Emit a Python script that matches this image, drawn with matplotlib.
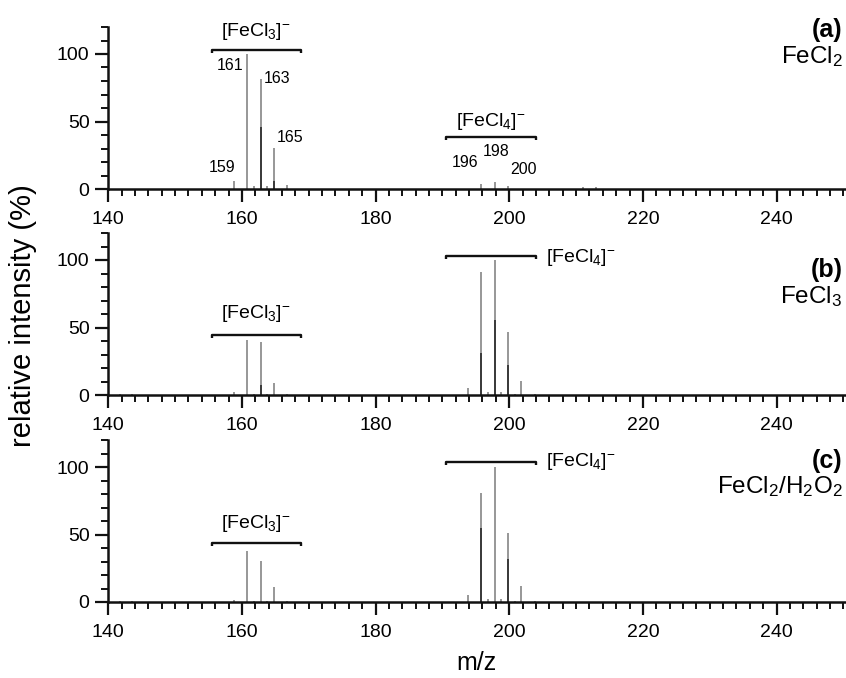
import matplotlib
matplotlib.use("Agg")
import matplotlib.pyplot as plt
from matplotlib.ticker import MultipleLocator

plt.rcParams['font.family'] = ['Liberation Sans', 'DejaVu Sans']
plt.rcParams['mathtext.fontset'] = 'custom'
plt.rcParams['mathtext.rm'] = 'Liberation Sans'
plt.rcParams['mathtext.it'] = 'Liberation Sans:italic'
plt.rcParams['mathtext.bf'] = 'Liberation Sans:bold'

# ---------------- data ----------------
mz_a = [158.8, 160.8, 161.8, 162.8, 163.8, 164.8, 166.8, 195.8, 197.8, 199.8, 211.0, 213.0]
int_a = [6, 100, 2, 81.5, 2, 30.5, 3, 4, 5.5, 2, 1.5, 1.5]
mz_a_dark = [162.8, 164.8]
int_a_dark = [46, 6]

mz_b = [141.7, 143.5, 158.8, 160.8, 161.8, 162.8, 163.8, 164.8, 166.8,
        193.8, 195.8, 196.8, 197.8, 198.8, 199.8, 200.8, 201.8, 203.8]
int_b = [1, 1, 2.5, 41, 1, 39, 1, 9, 1,
         5, 91, 2, 100, 2, 47, 1, 10.5, 1]
mz_b_dark = [162.8, 195.8, 197.8, 199.8]
int_b_dark = [7.5, 31, 55.5, 22]

mz_c = [141.7, 143.5, 158.8, 160.8, 161.8, 162.8, 163.8, 164.8, 166.8,
        193.8, 195.8, 196.8, 197.8, 198.8, 199.8, 200.8, 201.8, 203.8]
int_c = [1, 1, 1.5, 37.7, 1, 30.3, 1, 11.3, 1,
         5, 81, 2, 100, 2, 51, 1, 11.5, 0.5]
mz_c_dark = [195.8, 199.8]
int_c_dark = [55, 32]

peak_labels_a = ["159", "161", "163", "165", "196", "198", "200"]
peak_label_x_a = [157.0, 158.2, 165.2, 167.2, 193.4, 198.1, 202.1]
peak_label_y_a = [15.6, 91.3, 81.5, 37.8, 19.3, 27.6, 14.1]

panel_tags = ["(a)", "(b)", "(c)"]
panel_names = [r"FeCl$_2$", r"FeCl$_3$", r"FeCl$_2$/H$_2$O$_2$"]

fecl3_label = r"[FeCl$_3$]$^{-}$"
fecl4_label = r"[FeCl$_4$]$^{-}$"
fecl3_span = (155.5, 168.8)
fecl4_span = (190.6, 204.0)

# ---------------- figure ----------------
W, H = 846, 678
fig = plt.figure(figsize=(W / 100, H / 100), dpi=100)

left = 108.3 / W
bottoms_px = [189, 395, 602]
height_px = 162
axes = []
for b in bottoms_px:
    ax = fig.add_axes([left, (H - b) / H, 1.0 - left, height_px / H])
    axes.append(ax)

series = [(mz_a, int_a, mz_a_dark, int_a_dark),
          (mz_b, int_b, mz_b_dark, int_b_dark),
          (mz_c, int_c, mz_c_dark, int_c_dark)]

for ax, (mz, it, mzd, itd) in zip(axes, series):
    ax.vlines(mz, 0, it, colors='#858585', lw=1.2)
    ax.vlines(mzd, 0, itd, colors='#2a2a2a', lw=1.2)
    ax.set_xlim(140, 250.4)
    ax.set_ylim(0, 120)
    for s in ['top', 'right']:
        ax.spines[s].set_visible(False)
    for s in ['left', 'bottom']:
        ax.spines[s].set_linewidth(1.8)
        ax.spines[s].set_color('#111111')
    ax.xaxis.set_major_locator(MultipleLocator(20))
    ax.xaxis.set_minor_locator(MultipleLocator(2))
    ax.yaxis.set_major_locator(MultipleLocator(50))
    ax.yaxis.set_minor_locator(MultipleLocator(10))
    ax.tick_params(which='major', direction='out', length=9.5, width=1.6,
                   labelsize=14, color='#111111', pad=4)
    ax.tick_params(axis='x', which='major', pad=6.5)
    ax.tick_params(which='minor', direction='out', length=5, width=1.4,
                   color='#111111')
    ax.patch.set_visible(False)


def bracket(ax, x0, x1, y, hook=2.2):
    ax.plot([x0, x0, x1, x1], [y - hook, y, y, y - hook],
            color='#111111', lw=1.7, solid_capstyle='butt')


LBL = 14

# panel (a)
ax = axes[0]
bracket(ax, *fecl3_span, 103)
ax.text(sum(fecl3_span) / 2, 116.5, fecl3_label, ha='center', va='center', fontsize=LBL)
bracket(ax, *fecl4_span, 38.3)
ax.text(sum(fecl4_span) / 2, 50, fecl4_label, ha='center', va='center', fontsize=LBL)
for t, x, y in zip(peak_labels_a, peak_label_x_a, peak_label_y_a):
    ax.text(x, y, t, ha='center', va='center', fontsize=11.5)

# panel (b)
ax = axes[1]
bracket(ax, *fecl3_span, 44.4)
ax.text(sum(fecl3_span) / 2, 60.7, fecl3_label, ha='center', va='center', fontsize=LBL)
bracket(ax, *fecl4_span, 103)
ax.text(205.5, 101.5, fecl4_label, ha='left', va='center', fontsize=LBL)

# panel (c)
ax = axes[2]
bracket(ax, *fecl3_span, 43.8)
ax.text(sum(fecl3_span) / 2, 58.4, fecl3_label, ha='center', va='center', fontsize=LBL)
bracket(ax, *fecl4_span, 103.7)
ax.text(205.5, 104, fecl4_label, ha='left', va='center', fontsize=LBL)

# panel tags
tag_base_px = [37, 277, 468]
name_base_px = [63, 303, 493]
for tag, name, tb, nb in zip(panel_tags, panel_names, tag_base_px, name_base_px):
    fig.text(0.996, 1 - tb / H, tag, ha='right', va='baseline', fontsize=18, fontweight='bold')
    fig.text(0.996, 1 - nb / H, name, ha='right', va='baseline', fontsize=17.5)

fig.text(23 / W, 1 - 316 / H, "relative intensity (%)", rotation=90,
         ha='center', va='center', fontsize=21)
fig.text(476 / W, 1 - 663 / H, "m/z", ha='center', va='center', fontsize=18)

fig.savefig("out.png", dpi=100)
